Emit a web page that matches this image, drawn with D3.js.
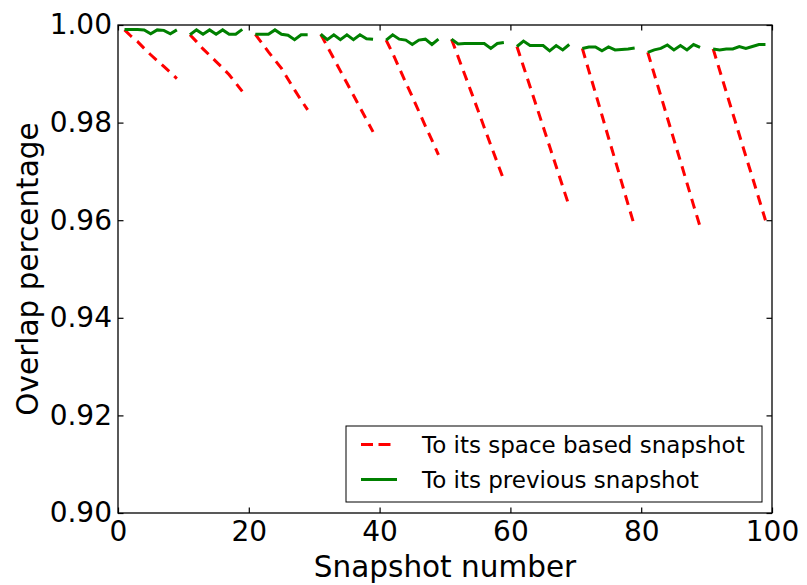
<!DOCTYPE html>
<html>
<head>
<meta charset="utf-8">
<script src="https://cdn.jsdelivr.net/npm/d3@7"></script>
<style>
  body { margin: 0; background: #fff; }
  text { font-family: "DejaVu Sans", sans-serif; }
</style>
</head>
<body>
<div id="chart"></div>
<script>
// snapshot numbers; multiples of 10 are gaps (null) in both series
const snapshots = [
   1,  2,  3,  4,  5,  6,  7,  8,  9, 10,
  11, 12, 13, 14, 15, 16, 17, 18, 19, 20,
  21, 22, 23, 24, 25, 26, 27, 28, 29, 30,
  31, 32, 33, 34, 35, 36, 37, 38, 39, 40,
  41, 42, 43, 44, 45, 46, 47, 48, 49, 50,
  51, 52, 53, 54, 55, 56, 57, 58, 59, 60,
  61, 62, 63, 64, 65, 66, 67, 68, 69, 70,
  71, 72, 73, 74, 75, 76, 77, 78, 79, 80,
  81, 82, 83, 84, 85, 86, 87, 88, 89, 90,
  91, 92, 93, 94, 95, 96, 97, 98, 99
];

const spaceBased = [
  0.9990, 0.9977, 0.9966, 0.9952, 0.9939, 0.9927, 0.9915, 0.9903, 0.9890, null,
  0.9980, 0.9966, 0.9951, 0.9938, 0.9925, 0.9912, 0.9898, 0.9881, 0.9864, null,
  0.9981, 0.9963, 0.9945, 0.9928, 0.9911, 0.9889, 0.9867, 0.9846, 0.9826, null,
  0.9981, 0.9956, 0.9931, 0.9906, 0.9881, 0.9856, 0.9831, 0.9806, 0.9781, null,
  0.9969, 0.9942, 0.9912, 0.9882, 0.9853, 0.9823, 0.9793, 0.9764, 0.9734, null,
  0.9971, 0.9935, 0.9899, 0.9863, 0.9827, 0.9790, 0.9754, 0.9718, 0.9682, null,
  0.9956, 0.9915, 0.9874, 0.9833, 0.9792, 0.9751, 0.9710, 0.9669, 0.9628, null,
  0.9952, 0.9906, 0.9861, 0.9815, 0.9769, 0.9724, 0.9678, 0.9632, 0.9587, null,
  0.9944, 0.9899, 0.9855, 0.9810, 0.9765, 0.9721, 0.9676, 0.9631, 0.9587, null,
  0.9951, 0.9907, 0.9863, 0.9819, 0.9775, 0.9731, 0.9688, 0.9644, 0.9600
];

const previous = [
  0.9991, 0.9991, 0.9991, 0.9990, 0.9982, 0.9990, 0.9989, 0.9982, 0.9990, null,
  0.9980, 0.9990, 0.9981, 0.9990, 0.9981, 0.9990, 0.9981, 0.9981, 0.9991, null,
  0.9981, 0.9981, 0.9981, 0.9990, 0.9981, 0.9979, 0.9970, 0.9980, 0.9980, null,
  0.9981, 0.9970, 0.9980, 0.9970, 0.9980, 0.9970, 0.9980, 0.9972, 0.9971, null,
  0.9969, 0.9980, 0.9971, 0.9969, 0.9960, 0.9969, 0.9971, 0.9960, 0.9971, null,
  0.9971, 0.9961, 0.9962, 0.9962, 0.9962, 0.9962, 0.9952, 0.9962, 0.9964, null,
  0.9956, 0.9967, 0.9958, 0.9958, 0.9958, 0.9947, 0.9958, 0.9949, 0.9960, null,
  0.9952, 0.9955, 0.9955, 0.9947, 0.9955, 0.9949, 0.9950, 0.9951, 0.9953, null,
  0.9944, 0.9949, 0.9952, 0.9959, 0.9949, 0.9958, 0.9949, 0.9960, 0.9954, null,
  0.9951, 0.9949, 0.9951, 0.9951, 0.9956, 0.9952, 0.9956, 0.9960, 0.9960
];

const xTicks = [0, 20, 40, 60, 80, 100];
const yTicks = [0.90, 0.92, 0.94, 0.96, 0.98, 1.00];
const seriesNames = ["To its space based snapshot", "To its previous snapshot"];

const width = 807, height = 585;
const margin = { top: 25, right: 35, bottom: 72, left: 118 };
const plotW = width - margin.left - margin.right;
const plotH = height - margin.top - margin.bottom;

const svg = d3.select('#chart').append('svg')
    .attr('width', width)
    .attr('height', height);

const g = svg.append('g')
    .attr('transform', `translate(${margin.left},${margin.top})`);

const x = d3.scaleLinear().domain([0, 100]).range([0, plotW]);
const y = d3.scaleLinear().domain([0.90, 1.00]).range([plotH, 0]);

g.append('clipPath').attr('id', 'clip')
  .append('rect').attr('width', plotW).attr('height', plotH);

// split a series into runs between the null gaps, so each run starts its own dash pattern
function runs(values) {
    const out = [];
    let cur = [];
    values.forEach((v, i) => {
        if (v == null) {
            if (cur.length) out.push(cur);
            cur = [];
        } else {
            cur.push([snapshots[i], v]);
        }
    });
    if (cur.length) out.push(cur);
    return out;
}

const line = d3.line()
    .x(d => x(d[0]))
    .y(d => y(d[1]));

const plot = g.append('g').attr('clip-path', 'url(#clip)');

plot.selectAll('path.space')
    .data(runs(spaceBased))
    .enter().append('path')
    .attr('class', 'space')
    .attr('d', line)
    .attr('fill', 'none')
    .attr('stroke', '#ff0000')
    .attr('stroke-width', 3)
    .attr('stroke-dasharray', '10,7');

plot.selectAll('path.prev')
    .data(runs(previous))
    .enter().append('path')
    .attr('class', 'prev')
    .attr('d', line)
    .attr('fill', 'none')
    .attr('stroke', '#008000')
    .attr('stroke-width', 3)
    .attr('stroke-linejoin', 'miter');

// axes with inward ticks on all four sides
const tick = 5.5;
const fontPx = 28;
const labelPx = 29.5;

const axisB = g.append('g')
    .attr('transform', `translate(0,${plotH})`)
    .call(d3.axisBottom(x).tickValues(xTicks).tickSize(-tick).tickPadding(8));
const axisT = g.append('g')
    .call(d3.axisTop(x).tickValues(xTicks).tickSize(-tick).tickFormat(''));
const axisL = g.append('g')
    .call(d3.axisLeft(y).tickValues(yTicks).tickSize(-tick).tickPadding(6).tickFormat(d3.format('.2f')));
const axisR = g.append('g')
    .attr('transform', `translate(${plotW},0)`)
    .call(d3.axisRight(y).tickValues(yTicks).tickSize(-tick).tickFormat(''));

[axisB, axisT, axisL, axisR].forEach(a => {
    a.select('.domain').remove();
    a.selectAll('line').attr('stroke', '#000').attr('stroke-width', 1.2);
    a.selectAll('text')
        .attr('fill', '#000')
        .style('font-size', fontPx + 'px')
        .style('font-family', '"DejaVu Sans", sans-serif');
});

g.append('rect')
    .attr('width', plotW)
    .attr('height', plotH)
    .attr('fill', 'none')
    .attr('stroke', '#000')
    .attr('stroke-width', 1.3);

// axis labels
svg.append('text')
    .attr('x', margin.left + plotW / 2)
    .attr('y', 577)
    .attr('text-anchor', 'middle')
    .style('font-size', labelPx + 'px')
    .text('Snapshot number');

svg.append('text')
    .attr('transform', `translate(38,${margin.top + plotH / 2}) rotate(-90)`)
    .attr('text-anchor', 'middle')
    .style('font-size', labelPx + 'px')
    .text('Overlap percentage');

// legend
const legend = svg.append('g').attr('transform', 'translate(346,426)');
legend.append('rect')
    .attr('width', 416)
    .attr('height', 76)
    .attr('fill', '#fff')
    .attr('stroke', '#000')
    .attr('stroke-width', 1);

const legendItems = [
    { name: seriesNames[0], color: '#ff0000', dash: '12,5.5', x2: 45 },
    { name: seriesNames[1], color: '#008000', dash: null, x2: 51 }
];

legendItems.forEach((item, i) => {
    const cy = 18.5 + i * 35;
    legend.append('line')
        .attr('x1', 15).attr('x2', item.x2)
        .attr('y1', cy).attr('y2', cy)
        .attr('stroke', item.color)
        .attr('stroke-width', 3)
        .attr('stroke-dasharray', item.dash);
    legend.append('text')
        .attr('x', 76)
        .attr('y', cy)
        .attr('dy', '0.36em')
        .style('font-size', '23px')
        .text(item.name);
});
</script>
</body>
</html>
